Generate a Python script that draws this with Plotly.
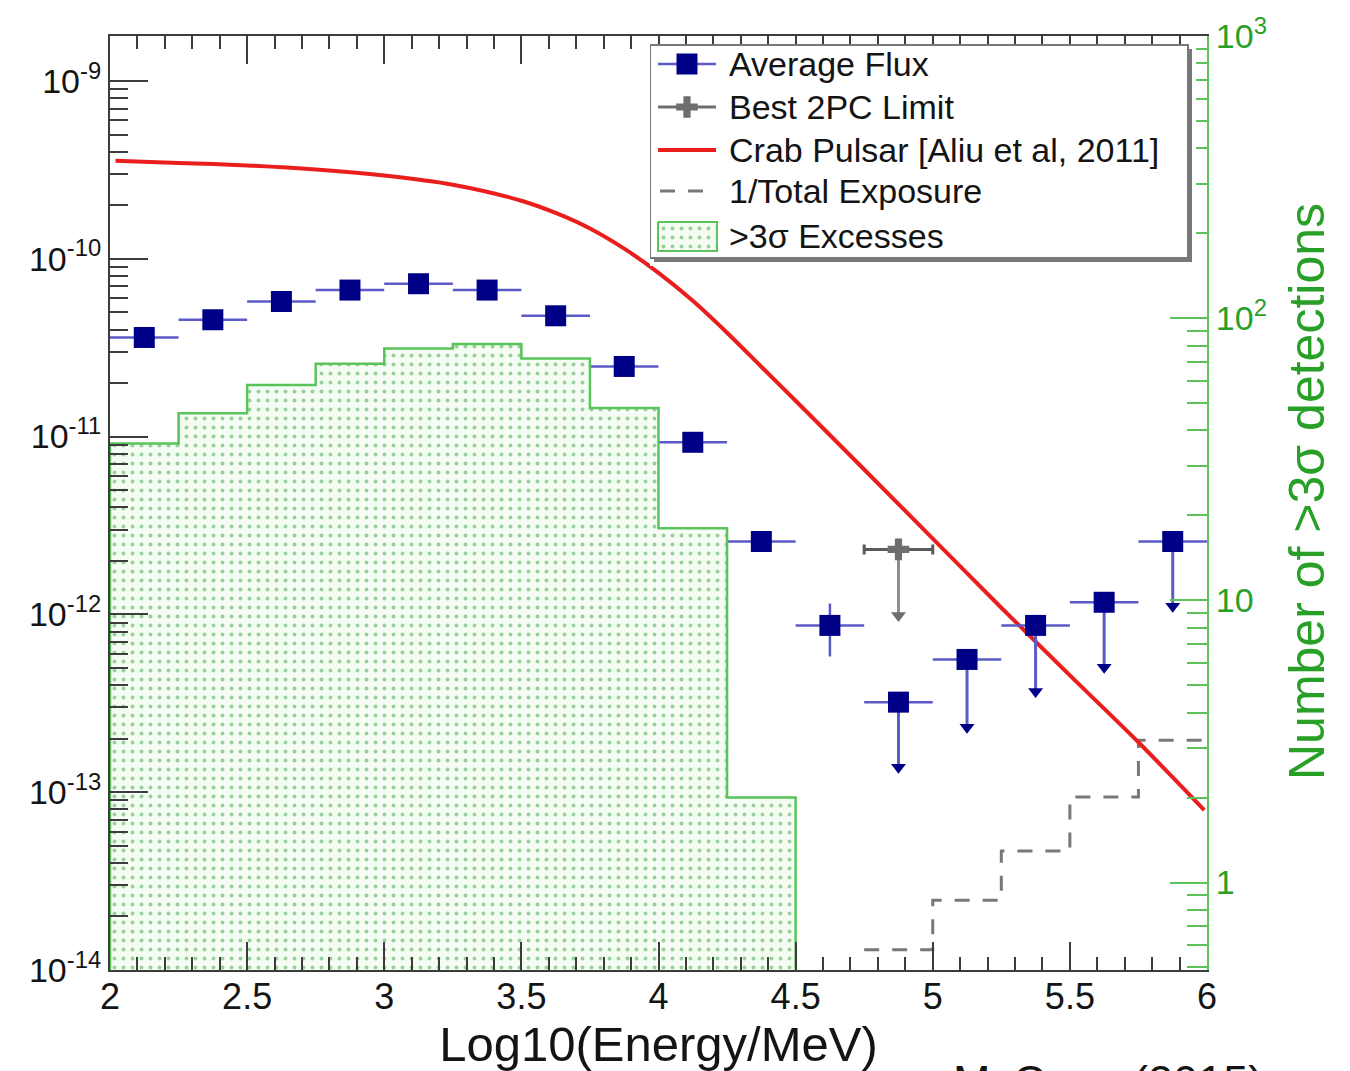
import plotly.graph_objects as go

# ---------------- data ----------------
# Average flux: significant detections (bin centres, log10 E/MeV)
det_x = [2.125, 2.375, 2.625, 2.875, 3.125, 3.375, 3.625, 3.875, 4.125, 4.375, 4.625]
det_flux = [3.61e-11, 4.54e-11, 5.75e-11, 6.67e-11, 7.24e-11, 6.67e-11, 4.78e-11,
            2.48e-11, 9.29e-12, 2.57e-12, 8.67e-13]
det_err_up = [0, 0, 0, 0, 0, 0, 0, 0, 0, 0, 2.83e-13]
det_err_low = [0, 0, 0, 0, 0, 0, 0, 0, 0, 0, 2.87e-13]

# Average flux: upper limits
ul_x = [4.875, 5.125, 5.375, 5.625, 5.875]
ul_flux = [3.21e-13, 5.58e-13, 8.67e-13, 1.17e-12, 2.57e-12]
ul_arrow = [1.38e-13, 2.32e-13, 3.69e-13, 5.04e-13, 1.11e-12]

bin_half_width = 0.125

# Best 2PC limit
pc_x = [4.875]
pc_flux = [2.32e-12]
pc_arrow = [9.86e-13]

# Crab pulsar [Aliu et al, 2011]
crab_x = [2.02, 2.25, 2.5, 2.75, 3.0, 3.25, 3.5, 3.625, 3.75, 3.875, 4.0, 4.125,
          4.25, 4.375, 4.5, 4.75, 5.0, 5.25, 5.5, 5.75, 5.99]
crab_flux = [3.56e-10, 3.46e-10, 3.35e-10, 3.18e-10, 2.94e-10, 2.61e-10, 2.12e-10,
             1.81e-10, 1.48e-10, 1.14e-10, 8.34e-11, 5.81e-11, 3.84e-11, 2.47e-11,
             1.59e-11, 6.53e-12, 2.67e-12, 1.09e-12, 4.54e-13, 1.91e-13, 7.93e-14]

# 1/Total exposure (step histogram)
exposure_edges = [4.75, 5.0, 5.25, 5.5, 5.75, 6.0]
exposure_vals = [1.3e-14, 2.47e-14, 4.67e-14, 9.4e-14, 1.96e-13]

# Number of >3 sigma excesses (right axis)
excess_edges = [2.0, 2.25, 2.5, 2.75, 3.0, 3.25, 3.5, 3.75, 4.0, 4.25, 4.5]
excess_counts = [36, 46, 58, 69, 78, 81, 72, 48, 18, 2]

legend_labels = ["Average Flux", "Best 2PC Limit", "Crab Pulsar [Aliu et al, 2011]",
                 "1/Total Exposure", ">3σ Excesses"]

x_ticks = [2, 2.5, 3, 3.5, 4, 4.5, 5, 5.5, 6]
x_ticktext = ["2", "2.5", "3", "3.5", "4", "4.5", "5", "5.5", "6"]
y_ticks = [1e-14, 1e-13, 1e-12, 1e-11, 1e-10, 1e-9]
y_ticktext = ["10<sup>-14</sup>", "10<sup>-13</sup>", "10<sup>-12</sup>",
              "10<sup>-11</sup>", "10<sup>-10</sup>", "10<sup>-9</sup>"]
y2_ticks = [1, 10, 100, 1000]
y2_ticktext = ["1", "10", "10<sup>2</sup>", "10<sup>3</sup>"]

y_minor = [m * 10.0 ** d for d in range(-14, -8) for m in range(2, 10)]
y2_minor = [m * 10.0 ** d for d in range(-1, 3) for m in range(2, 10)]

# ---------------- styles ----------------
FONT = "Liberation Sans, Arial, Helvetica, sans-serif"
NAVY = "rgb(0,0,135)"
BLUE_BAR = "rgb(90,90,200)"
GRAY = "rgb(110,110,110)"
RED = "rgb(235,30,30)"
GREEN_LINE = "rgb(90,195,90)"
GREEN_TXT = "rgb(40,160,40)"
AX = "rgb(60,60,60)"
TXT = "rgb(20,20,20)"
HIST_PATTERN = dict(shape=".", fgcolor="rgb(60,165,60)", bgcolor="rgb(244,252,244)",
                    size=9, solidity=0.15)

fig = go.Figure()

# >3 sigma excess histogram (closed step polygon, right axis)
hist_base = 0.1
hx = [excess_edges[0]] + excess_edges[:-1] + [excess_edges[-1]]
hy = [hist_base] + excess_counts + [hist_base]
fig.add_trace(go.Scatter(
    x=hx, y=hy, yaxis="y2", mode="lines", line=dict(shape="hv", color=GREEN_LINE, width=2.5),
    fill="toself", fillpattern=HIST_PATTERN, showlegend=False, hoverinfo="skip"))

# 1/Total exposure
fig.add_trace(go.Scatter(
    x=exposure_edges, y=exposure_vals + [exposure_vals[-1]], mode="lines",
    line=dict(shape="hv", color="rgb(120,120,120)", width=3, dash="15px,13px"),
    showlegend=False))

# Crab pulsar
fig.add_trace(go.Scatter(
    x=crab_x, y=crab_flux, mode="lines",
    line=dict(color=RED, width=4, shape="spline", smoothing=0.8), showlegend=False))

# Best 2PC limit
fig.add_trace(go.Scatter(
    x=pc_x, y=pc_flux, mode="markers",
    marker=dict(symbol="cross", size=18, color=GRAY),
    error_x=dict(type="constant", value=bin_half_width, width=5, thickness=3, color="rgb(90,90,90)"),
    error_y=dict(type="data", symmetric=False, array=[0] * len(pc_x),
                 arrayminus=[f - a for f, a in zip(pc_flux, pc_arrow)],
                 width=0, thickness=3, color="rgb(140,140,140)"),
    showlegend=False))
fig.add_trace(go.Scatter(
    x=pc_x, y=pc_arrow, mode="markers",
    marker=dict(symbol="triangle-down", size=13, color=GRAY), showlegend=False))

# Average flux - detections
fig.add_trace(go.Scatter(
    x=det_x, y=det_flux, mode="markers",
    marker=dict(symbol="square", size=21, color=NAVY),
    error_x=dict(type="constant", value=bin_half_width, width=0, thickness=2.5, color=BLUE_BAR),
    error_y=dict(type="data", symmetric=False, array=det_err_up, arrayminus=det_err_low,
                 width=0, thickness=2.5, color=BLUE_BAR),
    showlegend=False))

# Average flux - upper limits
fig.add_trace(go.Scatter(
    x=ul_x, y=ul_flux, mode="markers",
    marker=dict(symbol="square", size=21, color=NAVY),
    error_x=dict(type="constant", value=bin_half_width, width=0, thickness=2.5, color=BLUE_BAR),
    error_y=dict(type="data", symmetric=False, array=[0] * len(ul_x),
                 arrayminus=[f - a for f, a in zip(ul_flux, ul_arrow)],
                 width=0, thickness=3, color=BLUE_BAR),
    showlegend=False))
fig.add_trace(go.Scatter(
    x=ul_x, y=ul_arrow, mode="markers",
    marker=dict(symbol="triangle-down", size=13, color=NAVY), showlegend=False))

# ---------------- legend box (drawn on a helper axis in pixel-like units) ----------------
LX = "x3"
LY = "y3"
box_w, box_h, shadow = 538, 213, 4
row_y = [20, 63, 106, 147, 192]
sym_x0, sym_x1, sym_xc, text_x = 8, 66, 37, 77


def rect(x0, y0, x1, y1):
    return [x0, x1, x1, x0, x0], [y0, y0, y1, y1, y0]


sx, sy = rect(shadow, shadow + 1, box_w + shadow, box_h + shadow + 1)
fig.add_trace(go.Scatter(x=sx, y=sy, xaxis=LX, yaxis=LY, mode="lines", fill="toself",
                         fillcolor="rgb(120,120,120)", line=dict(width=0), showlegend=False,
                         hoverinfo="skip"))
bx, by = rect(0, 1, box_w, box_h + 1)
fig.add_trace(go.Scatter(x=bx, y=by, xaxis=LX, yaxis=LY, mode="lines", fill="toself",
                         fillcolor="white", line=dict(width=2, color="rgb(120,120,120)"),
                         showlegend=False, hoverinfo="skip"))
# Average flux symbol
fig.add_trace(go.Scatter(x=[sym_x0, sym_x1], y=[row_y[0]] * 2, xaxis=LX, yaxis=LY, mode="lines",
                         line=dict(color=BLUE_BAR, width=2.5), showlegend=False, hoverinfo="skip"))
fig.add_trace(go.Scatter(x=[sym_xc], y=[row_y[0]], xaxis=LX, yaxis=LY, mode="markers",
                         marker=dict(symbol="square", size=21, color=NAVY), showlegend=False,
                         hoverinfo="skip"))
# Best 2PC symbol
fig.add_trace(go.Scatter(x=[sym_x0, sym_x1], y=[row_y[1]] * 2, xaxis=LX, yaxis=LY, mode="lines",
                         line=dict(color=GRAY, width=3), showlegend=False, hoverinfo="skip"))
fig.add_trace(go.Scatter(x=[sym_xc], y=[row_y[1]], xaxis=LX, yaxis=LY, mode="markers",
                         marker=dict(symbol="cross", size=18, color=GRAY), showlegend=False,
                         hoverinfo="skip"))
# Crab symbol
fig.add_trace(go.Scatter(x=[sym_x0, sym_x1], y=[row_y[2]] * 2, xaxis=LX, yaxis=LY, mode="lines",
                         line=dict(color=RED, width=4), showlegend=False, hoverinfo="skip"))
# Exposure symbol
fig.add_trace(go.Scatter(x=[sym_x0 + 2, sym_x1], y=[row_y[3]] * 2, xaxis=LX, yaxis=LY, mode="lines",
                         line=dict(color="rgb(120,120,120)", width=3, dash="15px,13px"),
                         showlegend=False, hoverinfo="skip"))
# Excess symbol
ex, ey = rect(sym_x0, row_y[4] - 14, sym_x1 + 1, row_y[4] + 15)
fig.add_trace(go.Scatter(x=ex, y=ey, xaxis=LX, yaxis=LY, mode="lines", fill="toself",
                         fillpattern=HIST_PATTERN, line=dict(color=GREEN_LINE, width=2),
                         showlegend=False, hoverinfo="skip"))

for label, yy in zip(legend_labels, row_y):
    fig.add_annotation(text=label, xref=LX, yref=LY, x=text_x, y=yy, xanchor="left",
                       yanchor="middle", showarrow=False,
                       font=dict(size=34, family=FONT, color=TXT))

# ---------------- layout ----------------
W, H = 1350, 1071
ML, MR, MT, MB = 110, 143, 36, 101
PW, PH = W - ML - MR, H - MT - MB
leg_left_px, leg_top_px = 650, 44


def px_to_paper_x(px):
    return (px - ML) / PW


def px_to_paper_y(py):
    return (H - MB - py) / PH


fig.update_layout(
    width=W, height=H,
    margin=dict(l=ML, r=MR, t=MT, b=MB, autoexpand=False),
    paper_bgcolor="white", plot_bgcolor="white",
    font=dict(family=FONT, color=TXT),
    showlegend=False,
    xaxis=dict(range=[2, 6], tickvals=x_ticks, ticktext=x_ticktext,
               ticks="inside", ticklen=28, tickwidth=2, tickcolor=AX,
               showline=True, linecolor=AX, linewidth=2, mirror="ticks",
               minor=dict(ticks="inside", ticklen=13, tickwidth=2, tickcolor=AX, dtick=0.1,
                          showgrid=False),
               showgrid=False, zeroline=False, ticklabelstandoff=-6, automargin=False,
               tickfont=dict(size=36, family=FONT, color=TXT),
               title=dict(text="Log10(Energy/MeV)", font=dict(size=49, family=FONT, color=TXT),
                          standoff=4)),
    yaxis=dict(type="log", range=[-14, -8.747], tickvals=y_ticks, ticktext=y_ticktext,
               ticks="inside", ticklen=38, tickwidth=2, tickcolor=AX,
               showline=True, linecolor=AX, linewidth=2, mirror=False, automargin=False,
               minor=dict(ticks="inside", ticklen=18, tickwidth=2, tickcolor=AX,
                          tickvals=y_minor, showgrid=False),
               showgrid=False, zeroline=False,
               tickfont=dict(size=34, family=FONT, color=TXT)),
    yaxis2=dict(type="log", overlaying="y", side="right", range=[-0.31, 3.0],
                tickvals=y2_ticks, ticktext=y2_ticktext,
                ticks="inside", ticklen=37, tickwidth=2, tickcolor=GREEN_LINE,
                showline=True, linecolor=GREEN_LINE, linewidth=2, automargin=False,
                minor=dict(ticks="inside", ticklen=20, tickwidth=2, tickcolor=GREEN_LINE,
                           tickvals=y2_minor, showgrid=False),
                showgrid=False, zeroline=False,
                tickfont=dict(size=34, family=FONT, color=GREEN_TXT)),
    xaxis3=dict(domain=[px_to_paper_x(leg_left_px), px_to_paper_x(leg_left_px + 546)],
                range=[0, 546], visible=False, anchor="y3", fixedrange=True),
    yaxis3=dict(domain=[px_to_paper_y(leg_top_px + 222), px_to_paper_y(leg_top_px)],
                range=[222, 0], visible=False, anchor="x3", fixedrange=True),
)

# right axis title
fig.add_annotation(text="Number of >3σ detections", xref="paper", yref="paper",
                   x=px_to_paper_x(1307), y=px_to_paper_y(492), textangle=-90,
                   xanchor="center", yanchor="middle", showarrow=False,
                   font=dict(size=50, family=FONT, color=GREEN_TXT))

fig.add_annotation(text="McCann (2015)", xref="paper", yref="paper",
                   x=px_to_paper_x(1108), y=px_to_paper_y(1054),
                   xanchor="center", yanchor="top", showarrow=False,
                   font=dict(size=45, family=FONT, color=TXT))

fig.write_html("out.html")
